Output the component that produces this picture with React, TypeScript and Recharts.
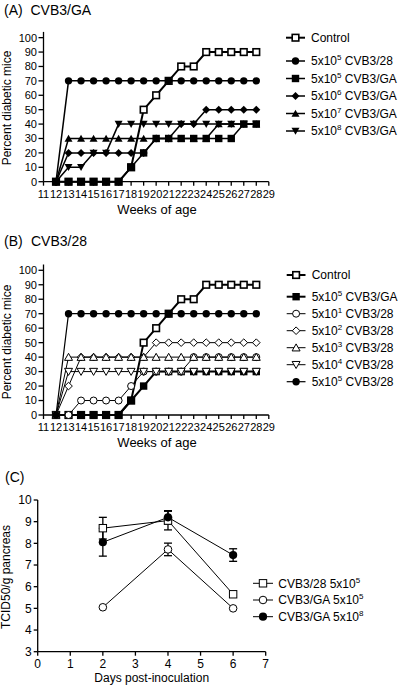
import React from 'react';
import { LineChart, Line, XAxis, YAxis, Legend, ErrorBar } from 'recharts';

const FONT = '"Liberation Sans", Arial, Helvetica, sans-serif';

// ---------- data ----------
const WEEKS = [12, 13, 14, 15, 16, 17, 18, 19, 20, 21, 22, 23, 24, 25, 26, 27, 28];
const WEEK_TICKS = [11, 12, 13, 14, 15, 16, 17, 18, 19, 20, 21, 22, 23, 24, 25, 26, 27, 28, 29];
const PERCENT_TICKS = [0, 10, 20, 30, 40, 50, 60, 70, 80, 90, 100];

// Panel A (CVB3/GA)
const A_CONTROL = [0, 0, 0, 0, 0, 0, 10, 50, 60, 70, 80, 80, 90, 90, 90, 90, 90];
const A_28_5E5 = [0, 70, 70, 70, 70, 70, 70, 70, 70, 70, 70, 70, 70, 70, 70, 70, 70];
const A_GA_5E5 = [0, 0, 0, 0, 0, 0, 10, 20, 30, 30, 30, 30, 30, 30, 30, 40, 40];
const A_GA_5E6 = [0, 20, 20, 20, 20, 20, 20, 20, 30, 30, 40, 40, 50, 50, 50, 50, 50];
const A_GA_5E7 = [0, 30, 30, 30, 30, 30, 30, 30, 30, 30, 30, 30, 30, 40, 40, 40, 40];
const A_GA_5E8 = [0, 10, 10, 20, 20, 40, 40, 40, 40, 40, 40, 40, 40, 40, 40, 40, 40];
const A_LABELS = [
  ['Control', '', ''],
  ['5x10', '5', ' CVB3/28'],
  ['5x10', '5', ' CVB3/GA'],
  ['5x10', '6', ' CVB3/GA'],
  ['5x10', '7', ' CVB3/GA'],
  ['5x10', '8', ' CVB3/GA'],
];

// Panel B (CVB3/28)
const B_CONTROL = [0, 0, 0, 0, 0, 0, 10, 50, 60, 70, 80, 80, 90, 90, 90, 90, 90];
const B_GA_5E5 = [0, 0, 0, 0, 0, 0, 10, 20, 30, 30, 30, 30, 30, 30, 30, 30, 30];
const B_28_5E1 = [0, 0, 10, 10, 10, 10, 20, 30, 30, 30, 30, 40, 40, 40, 40, 40, 40];
const B_28_5E2 = [0, 20, 40, 40, 40, 40, 40, 40, 50, 50, 50, 50, 50, 50, 50, 50, 50];
const B_28_5E3 = [0, 40, 40, 40, 40, 40, 40, 40, 40, 40, 40, 40, 40, 40, 40, 40, 40];
const B_28_5E4 = [0, 30, 30, 30, 30, 30, 30, 30, 30, 30, 30, 30, 30, 30, 30, 30, 30];
const B_28_5E5 = [0, 70, 70, 70, 70, 70, 70, 70, 70, 70, 70, 70, 70, 70, 70, 70, 70];
const B_LABELS = [
  ['Control', '', ''],
  ['5x10', '5', ' CVB3/GA'],
  ['5x10', '1', ' CVB3/28'],
  ['5x10', '2', ' CVB3/28'],
  ['5x10', '3', ' CVB3/28'],
  ['5x10', '4', ' CVB3/28'],
  ['5x10', '5', ' CVB3/28'],
];

// Panel C (titres)
const DAYS = [2, 4, 6];
const DAY_TICKS = [0, 1, 2, 3, 4, 5, 6, 7];
const TCID_TICKS = [3, 4, 5, 6, 7, 8, 9, 10];
const C_28_5E5 = [8.7, 9.05, 5.65];
const C_28_5E5_SEM = [0.5, 0.43, 0];
const C_GA_5E5 = [5.05, 7.72, 5.0];
const C_GA_5E5_SEM = [0, 0.29, 0];
const C_GA_5E8 = [8.05, 9.2, 7.46];
const C_GA_5E8_SEM = [0.64, 0.31, 0.29];
const C_LABELS = [
  ['CVB3/28 5x10', '5', ''],
  ['CVB3/GA 5x10', '5', ''],
  ['CVB3/GA 5x10', '8', ''],
];

// ---------- tables built from the arrays ----------
const dataA = WEEKS.map((week, i) => ({
  week,
  control: A_CONTROL[i],
  c28e5: A_28_5E5[i],
  gae5: A_GA_5E5[i],
  gae6: A_GA_5E6[i],
  gae7: A_GA_5E7[i],
  gae8: A_GA_5E8[i],
}));

const dataB = WEEKS.map((week, i) => ({
  week,
  control: B_CONTROL[i],
  gae5: B_GA_5E5[i],
  c28e1: B_28_5E1[i],
  c28e2: B_28_5E2[i],
  c28e3: B_28_5E3[i],
  c28e4: B_28_5E4[i],
  c28e5: B_28_5E5[i],
}));

const dataC = DAYS.map((day, i) => ({
  day,
  sq: C_28_5E5[i],
  sqErr: C_28_5E5_SEM[i] || null,
  oc: C_GA_5E5[i],
  ocErr: C_GA_5E5_SEM[i] || null,
  fc: C_GA_5E8[i],
  fcErr: C_GA_5E8_SEM[i] || null,
}));

// ---------- styles ----------
type Style = { key: string; shape: string; s: number; mw: number; lw: number };

const A_STYLES: Style[] = [
  { key: 'control', shape: 'sqOpen', s: 6.6, mw: 1.6, lw: 2 },
  { key: 'c28e5', shape: 'circFill', s: 7.4, mw: 0, lw: 1.5 },
  { key: 'gae5', shape: 'sqFill', s: 7.4, mw: 0, lw: 1.5 },
  { key: 'gae6', shape: 'diaFill', s: 8, mw: 0, lw: 1.5 },
  { key: 'gae7', shape: 'triUpFill', s: 7.6, mw: 0, lw: 1.5 },
  { key: 'gae8', shape: 'triDownFill', s: 7.6, mw: 0, lw: 1.5 },
];

const B_STYLES: Style[] = [
  { key: 'control', shape: 'sqOpen', s: 6.6, mw: 1.6, lw: 2 },
  { key: 'gae5', shape: 'sqFill', s: 7.4, mw: 0, lw: 2 },
  { key: 'c28e1', shape: 'circOpen', s: 7, mw: 1, lw: 1 },
  { key: 'c28e2', shape: 'diaOpen', s: 7.6, mw: 1, lw: 1 },
  { key: 'c28e3', shape: 'triUpOpen', s: 7.6, mw: 1, lw: 1 },
  { key: 'c28e4', shape: 'triDownOpen', s: 7.6, mw: 1, lw: 1 },
  { key: 'c28e5', shape: 'circFill', s: 7.4, mw: 0, lw: 1.2 },
];

const C_STYLES: Style[] = [
  { key: 'sq', shape: 'sqOpen', s: 7.4, mw: 1, lw: 1 },
  { key: 'oc', shape: 'circOpen', s: 7.6, mw: 1, lw: 1 },
  { key: 'fc', shape: 'circFill', s: 8.2, mw: 0, lw: 1 },
];

function Mark({ shape, cx, cy, s, mw }: { shape: string; cx: number; cy: number; s: number; mw: number }) {
  const filled = shape.endsWith('Fill');
  const fill = filled ? '#000' : '#fff';
  const stroke = filled ? 'none' : '#000';
  const h = s / 2;
  if (shape.startsWith('sq')) {
    return <rect x={cx - h} y={cy - h} width={s} height={s} fill={fill} stroke={stroke} strokeWidth={mw} />;
  }
  if (shape.startsWith('circ')) {
    return <circle cx={cx} cy={cy} r={h} fill={fill} stroke={stroke} strokeWidth={mw} />;
  }
  if (shape.startsWith('dia')) {
    const pts = `${cx},${cy - h} ${cx + h},${cy} ${cx},${cy + h} ${cx - h},${cy}`;
    return <polygon points={pts} fill={fill} stroke={stroke} strokeWidth={mw} />;
  }
  if (shape.startsWith('triUp')) {
    const pts = `${cx},${cy - h} ${cx + h * 1.05},${cy + h * 0.85} ${cx - h * 1.05},${cy + h * 0.85}`;
    return <polygon points={pts} fill={fill} stroke={stroke} strokeWidth={mw} strokeLinejoin="miter" />;
  }
  const pts = `${cx},${cy + h} ${cx + h * 1.05},${cy - h * 0.85} ${cx - h * 1.05},${cy - h * 0.85}`;
  return <polygon points={pts} fill={fill} stroke={stroke} strokeWidth={mw} />;
}

const makeDot = (st: Style) => (p: any) => {
  const k = `${st.key}-${p.index}`;
  if (p.cx == null || p.cy == null) return <g key={k} />;
  return (
    <g key={k}>
      <Mark shape={st.shape} cx={p.cx} cy={p.cy} s={st.s} mw={st.mw} />
    </g>
  );
};

function LegendBox({
  styles,
  labels,
  rows,
  lineX,
  textX,
  width,
  height,
}: {
  styles: Style[];
  labels: string[][];
  rows: number[];
  lineX: [number, number];
  textX: number;
  width: number;
  height: number;
}) {
  const mx = (lineX[0] + lineX[1]) / 2;
  return (
    <svg width={width} height={height} style={{ display: 'block', overflow: 'visible' }}>
      {styles.map((st, i) => {
        const y = rows[i];
        const [base, exp, rest] = labels[i];
        return (
          <g key={st.key}>
            <line x1={lineX[0]} y1={y} x2={lineX[1]} y2={y} stroke="#000" strokeWidth={st.lw} />
            <Mark shape={st.shape} cx={mx} cy={y} s={st.s} mw={st.mw} />
            <text x={textX} y={y + 4.3} fontSize={12} fill="#000" fontFamily={FONT}>
              {base}
              {exp ? (
                <tspan fontSize={8} dy={-5}>
                  {exp}
                </tspan>
              ) : null}
              {rest ? <tspan dy={exp ? 5 : 0}>{rest}</tspan> : null}
            </text>
          </g>
        );
      })}
    </svg>
  );
}

const axisStroke = { stroke: '#000', strokeWidth: 1.3 };

export default function App() {
  return (
    <div
      style={{
        position: 'absolute',
        left: 0,
        top: 0,
        width: 400,
        height: 688,
        background: '#fff',
        fontFamily: FONT,
        overflow: 'hidden',
      }}
    >
      {/* Panel A */}
      <div style={{ position: 'absolute', left: 0, top: 0 }}>
        <LineChart width={400} height={218} data={dataA} margin={{ top: 31.9, right: 131.2, bottom: 0, left: 0 }}>
          <XAxis
            type="number"
            dataKey="week"
            domain={[11, 29]}
            ticks={WEEK_TICKS}
            interval={0}
            height={36.3}
            tickSize={4}
            tickMargin={4}
            tick={{ fill: '#000', fontSize: 11 }}
            axisLine={axisStroke}
            tickLine={axisStroke}
          />
          <YAxis
            type="number"
            domain={[0, 104]}
            ticks={PERCENT_TICKS}
            interval={0}
            width={43.5}
            tickSize={5}
            tickMargin={1.5}
            tick={{ fill: '#000', fontSize: 11 }}
            axisLine={axisStroke}
            tickLine={axisStroke}
          />
          {A_STYLES.map((st) => (
            <Line
              key={st.key}
              type="linear"
              dataKey={st.key}
              stroke="#000"
              strokeWidth={st.lw}
              dot={makeDot(st)}
              activeDot={false}
              isAnimationActive={false}
            />
          ))}
          <Legend
            layout="horizontal"
            verticalAlign="middle"
            align="center"
            wrapperStyle={{ left: 280, top: 28, width: 120, height: 115 }}
            content={() => (
              <LegendBox
                styles={A_STYLES}
                labels={A_LABELS}
                rows={[9.7, 33, 50.5, 68, 85.5, 103]}
                lineX={[6, 25]}
                textX={31}
                width={120}
                height={115}
              />
            )}
          />
        </LineChart>
      </div>

      {/* Panel B */}
      <div style={{ position: 'absolute', left: 0, top: 232 }}>
        <LineChart width={400} height={218} data={dataB} margin={{ top: 32.5, right: 131.2, bottom: 0, left: 0 }}>
          <XAxis
            type="number"
            dataKey="week"
            domain={[11, 29]}
            ticks={WEEK_TICKS}
            interval={0}
            height={35}
            tickSize={4}
            tickMargin={4}
            tick={{ fill: '#000', fontSize: 11 }}
            axisLine={axisStroke}
            tickLine={axisStroke}
          />
          <YAxis
            type="number"
            domain={[0, 104]}
            ticks={PERCENT_TICKS}
            interval={0}
            width={43.5}
            tickSize={5}
            tickMargin={1.5}
            tick={{ fill: '#000', fontSize: 11 }}
            axisLine={axisStroke}
            tickLine={axisStroke}
          />
          {B_STYLES.map((st) => (
            <Line
              key={st.key}
              type="linear"
              dataKey={st.key}
              stroke="#000"
              strokeWidth={st.lw}
              dot={makeDot(st)}
              activeDot={false}
              isAnimationActive={false}
            />
          ))}
          <Legend
            layout="horizontal"
            verticalAlign="middle"
            align="center"
            wrapperStyle={{ left: 280, top: 33, width: 120, height: 130 }}
            content={() => (
              <LegendBox
                styles={B_STYLES}
                labels={B_LABELS}
                rows={[10, 31.7, 48.7, 65.7, 82.7, 99.7, 116.7]}
                lineX={[6.7, 25.5]}
                textX={31.7}
                width={120}
                height={130}
              />
            )}
          />
        </LineChart>
      </div>

      {/* Panel C */}
      <div style={{ position: 'absolute', left: 0, top: 470 }}>
        <LineChart width={400} height={218} data={dataC} margin={{ top: 30, right: 134.3, bottom: 0, left: 0 }}>
          <XAxis
            type="number"
            dataKey="day"
            domain={[0, 7]}
            ticks={DAY_TICKS}
            interval={0}
            height={36.3}
            tickSize={4}
            tickMargin={4}
            tick={{ fill: '#000', fontSize: 12 }}
            axisLine={axisStroke}
            tickLine={axisStroke}
          />
          <YAxis
            type="number"
            domain={[3, 10]}
            ticks={TCID_TICKS}
            interval={0}
            width={37.7}
            tickSize={4}
            tickMargin={2}
            tick={{ fill: '#000', fontSize: 12 }}
            axisLine={axisStroke}
            tickLine={axisStroke}
          />
          {C_STYLES.map((st) => (
            <Line
              key={st.key}
              type="linear"
              dataKey={st.key}
              stroke="#000"
              strokeWidth={st.lw}
              dot={makeDot(st)}
              activeDot={false}
              isAnimationActive={false}
            >
              <ErrorBar dataKey={`${st.key}Err`} width={4} stroke="#000" strokeWidth={1.3} direction="y" />
            </Line>
          ))}
          <Legend
            layout="horizontal"
            verticalAlign="middle"
            align="center"
            wrapperStyle={{ left: 248, top: 103, width: 152, height: 56 }}
            content={() => (
              <LegendBox
                styles={C_STYLES}
                labels={C_LABELS}
                rows={[10.3, 27, 43.7]}
                lineX={[5, 25]}
                textX={30.3}
                width={152}
                height={56}
              />
            )}
          />
        </LineChart>
      </div>

      {/* Titles and axis titles */}
      <svg
        width={400}
        height={688}
        style={{ position: 'absolute', left: 0, top: 0, pointerEvents: 'none' }}
        fontFamily={FONT}
      >
        <text x={4} y={14.5} fontSize={14} fill="#000">(A)</text>
        <text x={30.5} y={14.5} fontSize={14} fill="#000">CVB3/GA</text>
        <text x={4} y={246} fontSize={14} fill="#000">(B)</text>
        <text x={31} y={246} fontSize={14} fill="#000">CVB3/28</text>
        <text x={5} y={481.5} fontSize={14} fill="#000">(C)</text>

        <text x={157} y={214} fontSize={13} fill="#000" textAnchor="middle">Weeks of age</text>
        <text x={157} y={447} fontSize={13} fill="#000" textAnchor="middle">Weeks of age</text>
        <text x={151.7} y={682} fontSize={12} fill="#000" textAnchor="middle">Days post-inoculation</text>

        <text transform="translate(11,108) rotate(-90)" fontSize={12} fill="#000" textAnchor="middle">
          Percent diabetic mice
        </text>
        <text transform="translate(11,342) rotate(-90)" fontSize={12} fill="#000" textAnchor="middle">
          Percent diabetic mice
        </text>
        <text transform="translate(10,577) rotate(-90)" fontSize={12} fill="#000" textAnchor="middle">
          TCID50/g pancreas
        </text>
      </svg>
    </div>
  );
}
